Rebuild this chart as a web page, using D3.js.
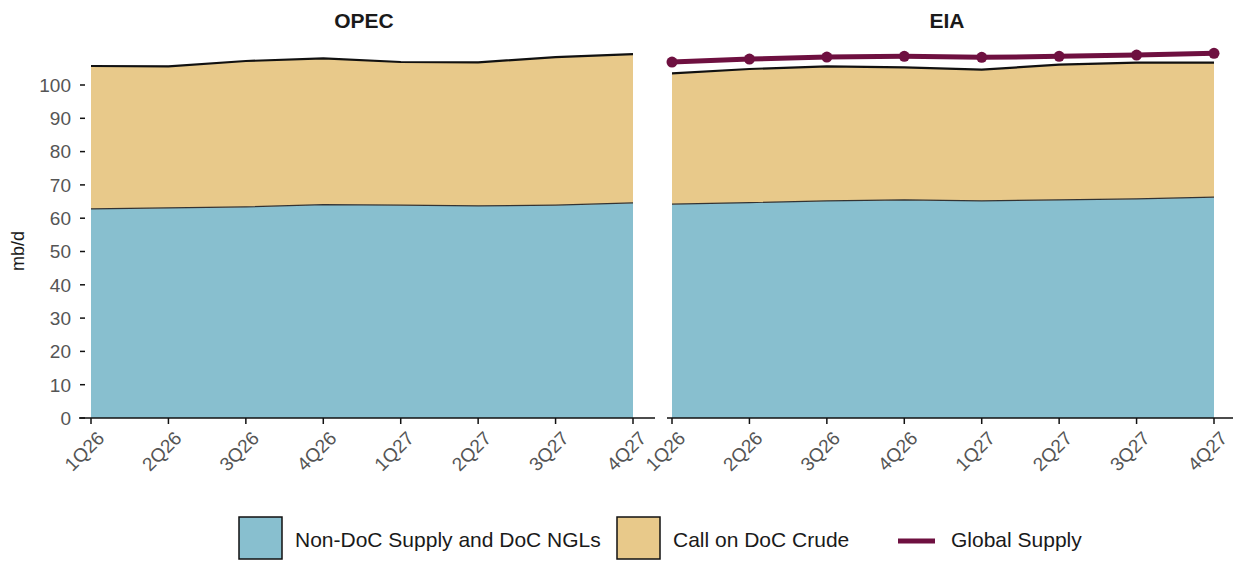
<!DOCTYPE html>
<html>
<head>
<meta charset="utf-8">
<script src="https://cdn.jsdelivr.net/npm/d3@7"></script>
<style>
  body { margin: 0; background: #fff; }
  svg { font-family: "Liberation Sans", Arial, sans-serif; }
  .tick-label { fill: #555; font-size: 19px; }
</style>
</head>
<body>
<svg id="chart" width="1236" height="561"></svg>
<script>
const quarters = ['1Q26', '2Q26', '3Q26', '4Q26', '1Q27', '2Q27', '3Q27', '4Q27'];
const yTicks = [0, 10, 20, 30, 40, 50, 60, 70, 80, 90, 100];

// OPEC panel (mb/d)
const opecNonDoc = [62.8, 63.1, 63.4, 64.1, 63.9, 63.7, 63.9, 64.6];
const opecCall = [42.9, 42.5, 43.8, 43.9, 43.0, 43.1, 44.5, 44.7];

// EIA panel (mb/d)
const eiaNonDoc = [64.2, 64.7, 65.2, 65.5, 65.2, 65.5, 65.8, 66.3];
const eiaCall = [39.3, 40.1, 40.4, 39.8, 39.4, 40.6, 40.9, 40.4];
const eiaGlobal = [106.9, 107.8, 108.4, 108.6, 108.3, 108.6, 109.0, 109.5];

const colors = {nonDoc: '#88bfcf', call: '#e8c98a', global: '#6e1040'};

const svg = d3.select('#chart');

const y = d3.scaleLinear().domain([0, 100]).range([418, 85]);

const panels = [
  {title: 'OPEC', nonDoc: opecNonDoc, call: opecCall, global: null,
    axisX: [79, 655], dataX: [91, 633], showY: true},
  {title: 'EIA', nonDoc: eiaNonDoc, call: eiaCall, global: eiaGlobal,
    axisX: [667, 1233], dataX: [672, 1214], showY: false},
];

panels.forEach(function(p) {
  const x = d3.scalePoint().domain(quarters).range(p.dataX);
  const g = svg.append('g');

  const rows = quarters.map((q, i) => ({q: q, nonDoc: p.nonDoc[i], call: p.call[i]}));
  const stack = d3.stack().keys(['nonDoc', 'call'])(rows);

  const area = d3.area()
      .x((d) => x(d.data.q))
      .y0((d) => y(d[0]))
      .y1((d) => y(d[1]));

  g.selectAll('path.layer')
      .data(stack)
      .join('path')
      .attr('class', 'layer')
      .attr('fill', (d) => colors[d.key])
      .attr('d', area);

  const topLine = d3.line()
      .x((d) => x(d.data.q))
      .y((d) => y(d[1]));

  // thin edge on the blue layer, heavier one on the total
  g.append('path')
      .attr('d', topLine(stack[0]))
      .attr('fill', 'none')
      .attr('stroke', '#333')
      .attr('stroke-width', 1.2);
  g.append('path')
      .attr('d', topLine(stack[1]))
      .attr('fill', 'none')
      .attr('stroke', '#111')
      .attr('stroke-width', 2.2);

  if (p.global) {
    const gl = d3.line()
        .x((d, i) => x(quarters[i]))
        .y((d) => y(d));
    g.append('path')
        .attr('d', gl(p.global))
        .attr('fill', 'none')
        .attr('stroke', colors.global)
        .attr('stroke-width', 5);
    g.selectAll('circle.gs')
        .data(p.global)
        .join('circle')
        .attr('class', 'gs')
        .attr('cx', (d, i) => x(quarters[i]))
        .attr('cy', (d) => y(d))
        .attr('r', 5.5)
        .attr('fill', colors.global);
  }

  // x axis
  g.append('line')
      .attr('x1', p.axisX[0]).attr('x2', p.axisX[1])
      .attr('y1', y(0)).attr('y2', y(0))
      .attr('stroke', '#111').attr('stroke-width', 1.5);
  quarters.forEach(function(q) {
    g.append('line')
        .attr('x1', x(q)).attr('x2', x(q))
        .attr('y1', y(0)).attr('y2', y(0) + 6)
        .attr('stroke', '#111').attr('stroke-width', 1.5);
    g.append('text')
        .attr('class', 'tick-label')
        .attr('text-anchor', 'end')
        .attr('transform', 'translate(' + (x(q) + 5) + ',' + (y(0) + 12) + ') rotate(-45)')
        .attr('dy', '0.7em')
        .text(q);
  });

  if (p.showY) {
    yTicks.forEach(function(t) {
      g.append('line')
          .attr('x1', 80).attr('x2', 85)
          .attr('y1', y(t)).attr('y2', y(t))
          .attr('stroke', '#111').attr('stroke-width', 1.5);
      g.append('text')
          .attr('class', 'tick-label')
          .attr('x', 71).attr('y', y(t))
          .attr('dy', '0.36em')
          .attr('text-anchor', 'end')
          .text(t);
    });
  }

  g.append('text')
      .attr('x', (p.axisX[0] + p.axisX[1]) / 2 - 3)
      .attr('y', 28)
      .attr('text-anchor', 'middle')
      .attr('font-weight', 'bold')
      .attr('font-size', 21)
      .attr('fill', '#1a1a1a')
      .text(p.title);
});

svg.append('text')
    .attr('transform', 'translate(24,251) rotate(-90)')
    .attr('text-anchor', 'middle')
    .attr('font-size', 18)
    .attr('fill', '#1a1a1a')
    .text('mb/d');

// legend
const legend = svg.append('g');
const boxItems = [
  {label: 'Non-DoC Supply and DoC NGLs', color: colors.nonDoc, x: 239},
  {label: 'Call on DoC Crude', color: colors.call, x: 617},
];
boxItems.forEach(function(it) {
  legend.append('rect')
      .attr('x', it.x).attr('y', 517)
      .attr('width', 43).attr('height', 42)
      .attr('fill', it.color)
      .attr('stroke', '#111').attr('stroke-width', 1.5);
  legend.append('text')
      .attr('x', it.x + 56).attr('y', 547)
      .attr('font-size', 21)
      .attr('fill', '#1a1a1a')
      .text(it.label);
});
legend.append('line')
    .attr('x1', 898).attr('x2', 935)
    .attr('y1', 541).attr('y2', 541)
    .attr('stroke', colors.global).attr('stroke-width', 5);
legend.append('text')
    .attr('x', 951).attr('y', 547)
    .attr('font-size', 21)
    .attr('fill', '#1a1a1a')
    .text('Global Supply');
</script>
</body>
</html>
